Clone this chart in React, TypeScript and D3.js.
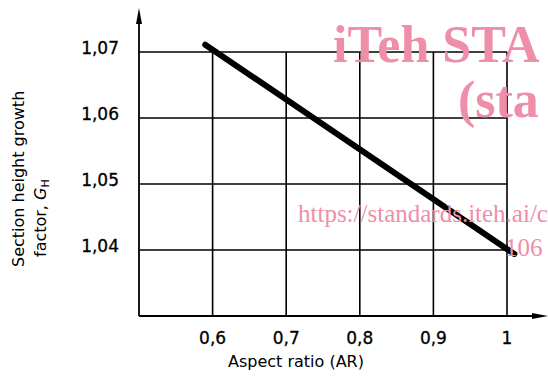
import React, { useEffect, useRef } from "react";
import * as d3 from "d3";

// values
const xTicks = [0.6, 0.7, 0.8, 0.9, 1.0];
const yTicks = [1.04, 1.05, 1.06, 1.07];
const curveAR = [0.59, 1.01];
const curveGH = [1.0711, 1.0394];
const xTitle = "Aspect ratio (AR)";
const yTitleLines = ["Section height growth", "factor, "];

const W = 548;
const H = 376;
const FONT = "'DejaVu Sans', sans-serif";
const PINK = "#ee8ea8";

const App = () => {
  const svgRef = useRef<SVGSVGElement | null>(null);

  useEffect(() => {
    const svg = d3.select(svgRef.current);
    svg.selectAll("*").remove();

    const x = d3.scaleLinear().domain([0.5, 1.0]).range([139, 507]);
    const y = d3.scaleLinear().domain([1.03, 1.07]).range([316, 52]);
    const fmt = (v: number) => d3.format(".2f")(v).replace(".", ",");
    const fmtX = (v: number) => (v === 1 ? "1" : d3.format(".1f")(v).replace(".", ","));

    // grid
    const grid = svg.append("g").attr("stroke", "#000").attr("stroke-width", 1.6);
    xTicks.forEach((t) => {
      grid.append("line").attr("x1", x(t)).attr("x2", x(t)).attr("y1", y(1.07)).attr("y2", y(1.03));
    });
    yTicks.forEach((t) => {
      grid.append("line").attr("x1", x(0.5)).attr("x2", x(1.0)).attr("y1", y(t)).attr("y2", y(t));
    });

    // axes with arrows
    svg.append("line").attr("x1", x(0.5)).attr("x2", x(0.5)).attr("y1", y(1.03)).attr("y2", 14)
      .attr("stroke", "#000").attr("stroke-width", 1.8);
    svg.append("path")
      .attr("d", `M${x(0.5)},8 L${x(0.5) - 3},24 L${x(0.5) + 3},24 Z`)
      .attr("fill", "#000");
    svg.append("line").attr("x1", x(0.5)).attr("x2", 540).attr("y1", y(1.03)).attr("y2", y(1.03))
      .attr("stroke", "#000").attr("stroke-width", 1.8);
    svg.append("path")
      .attr("d", `M548,${y(1.03)} L532,${y(1.03) - 3} L532,${y(1.03) + 3} Z`)
      .attr("fill", "#000");

    // tick labels
    svg.append("g").selectAll("text").data(yTicks).join("text")
      .attr("x", 119).attr("y", (d) => y(d) + 2)
      .attr("text-anchor", "end")
      .attr("font-family", FONT).attr("font-size", 17)
      .attr("stroke", "#000").attr("stroke-width", 0.3)
      .text((d) => fmt(d));
    svg.append("g").selectAll("text").data(xTicks).join("text")
      .attr("x", (d) => x(d)).attr("y", 344)
      .attr("text-anchor", "middle")
      .attr("font-family", FONT).attr("font-size", 17)
      .attr("stroke", "#000").attr("stroke-width", 0.3)
      .text((d) => fmtX(d));

    // titles
    svg.append("text").attr("x", 296).attr("y", 367).attr("text-anchor", "middle")
      .attr("font-family", FONT).attr("font-size", 16).text(xTitle);
    svg.append("text").attr("transform", "translate(24,267) rotate(-90)")
      .attr("font-family", FONT).attr("font-size", 16).text(yTitleLines[0]);
    const t2 = svg.append("text").attr("transform", "translate(46,257) rotate(-90)")
      .attr("font-family", FONT).attr("font-size", 16);
    t2.append("tspan").text(yTitleLines[1]);
    t2.append("tspan").attr("font-style", "italic").text("G");
    t2.append("tspan").attr("font-size", 11).attr("dy", 3).text("H");

    // curve
    const pts = curveAR.map((a, i) => [x(a), y(curveGH[i])] as [number, number]);
    svg.append("path").attr("d", d3.line()(pts))
      .attr("stroke", "#000").attr("stroke-width", 6).attr("stroke-linecap", "round").attr("fill", "none");

    // watermark (cut at the right edge as in the reference)
    const wm = svg.append("g").attr("fill", PINK).attr("font-family", "'Liberation Serif', serif");
    wm.append("text").attr("x", 333).attr("y", 62).attr("font-size", 52).attr("font-weight", "bold").text("iTeh STA");
    wm.append("text").attr("x", 458).attr("y", 117).attr("font-size", 52).attr("font-weight", "bold").text("(sta");
    wm.append("text").attr("x", 298).attr("y", 222).attr("font-size", 25).text("https://standards.iteh.ai/ca");
    wm.append("text").attr("x", 505).attr("y", 256).attr("font-size", 25).text("106");
  }, []);

  return (
    <svg ref={svgRef} width={W} height={H} style={{ position: "absolute", left: 0, top: 0, background: "#fff" }} />
  );
};

export default App;
